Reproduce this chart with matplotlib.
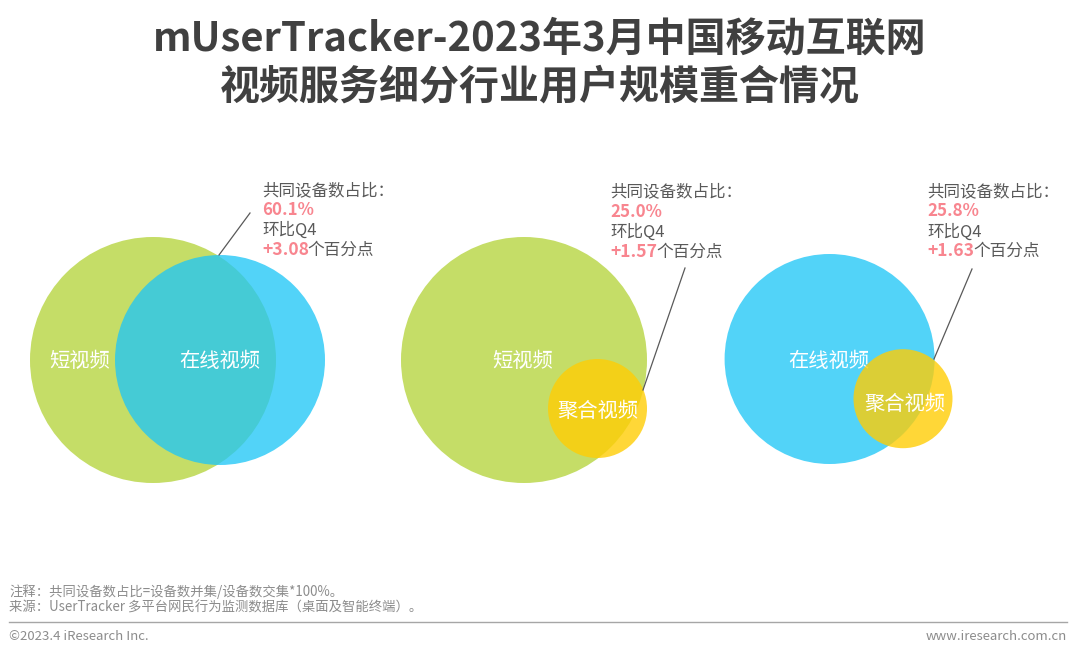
import matplotlib
matplotlib.use('Agg')
import matplotlib.pyplot as plt
from matplotlib.patches import Circle

plt.rcParams['font.family'] = ['Noto Sans CJK SC', 'DejaVu Sans']

title_lines = ['mUserTracker-2023年3月中国移动互联网', '视频服务细分行业用户规模重合情况']
back_names = ['短视频', '短视频', '在线视频']
front_names = ['在线视频', '聚合视频', '聚合视频']
shared_pct = [60.1, 25.0, 25.8]
qoq_change = [3.08, 1.57, 1.63]
# circle sizes, in px
back_radius = [123, 123, 105]
front_radius = [105, 49.5, 49.5]
note_lines = ['注释\uff1a共同设备数占比=设备数并集/设备数交集*100%。',
              '来源\uff1aUserTracker 多平台网民行为监测数据库\uff08桌面及智能终端\uff09。']

GREEN = '#C5DD67'
BLUE = '#1EC6F7'
YELLOW = '#FFCD05'
PINK = '#F8858F'
GREY = '#595959'
NOTE_GREY = '#8C8C8C'
circle_color = {'短视频': (GREEN, 1), '在线视频': (BLUE, 0.77), '聚合视频': (YELLOW, 0.8)}

# layout per panel, px from top left
back_xy = [(153, 360), (524, 360), (829.6, 359)]
front_xy = [(220, 360), (597.5, 408.5), (903, 398.7)]
back_label_xy = [(80, 361), (523, 361), (829, 361)]
front_label_xy = [(220, 361), (598, 411), (905, 404)]
note_x = [262, 610, 927]
note_y = [(191, 210, 230, 250), (192, 212, 232, 252), (192, 211, 232, 251)]
leaders = [((250, 213), (219, 255)), ((685, 268), (643, 390)), ((972, 269), (934, 359))]

fig = plt.figure(figsize=(10.8, 6.56), dpi=100)
ax = fig.add_axes([0, 0, 1, 1])
ax.set_xlim(0, 1080)
ax.set_ylim(656, 0)
ax.axis('off')

ax.text(540, 39, title_lines[0], fontsize=28.8, fontweight='bold', color='#404040', ha='center', va='center')
ax.text(540, 87, title_lines[1], fontsize=28.8, fontweight='bold', color='#404040', ha='center', va='center')

renderer = fig.canvas.get_renderer()

for i in range(3):
    col, alpha = circle_color[back_names[i]]
    ax.add_patch(Circle(back_xy[i], back_radius[i], fc=col, alpha=alpha, ec='none', zorder=2))
    ax.text(back_label_xy[i][0], back_label_xy[i][1], back_names[i], fontsize=14.6, color='white',
            ha='center', va='center', zorder=3)

    col, alpha = circle_color[front_names[i]]
    ax.add_patch(Circle(front_xy[i], front_radius[i], fc=col, alpha=alpha, ec='none', zorder=4))
    ax.text(front_label_xy[i][0], front_label_xy[i][1], front_names[i], fontsize=14.6, color='white',
            ha='center', va='center', zorder=5)

    start, end = leaders[i]
    ax.plot([start[0], end[0]], [start[1], end[1]], color=GREY, lw=0.9, zorder=6)

    x = note_x[i]
    ys = note_y[i]
    ax.text(x, ys[0], '共同设备数占比\uff1a', fontsize=11.9, color=GREY, va='center')
    ax.text(x, ys[1], f'{shared_pct[i]:.1f}%', fontsize=12.2, fontweight='bold', color=PINK, va='center')
    ax.text(x, ys[2], '环比Q4', fontsize=11.9, color=GREY, va='center')
    change = ax.text(x, ys[3], f'+{qoq_change[i]:.2f}', fontsize=12.6, fontweight='bold', color=PINK, va='center')
    box = change.get_window_extent(renderer)
    ax.text(box.x1 - 1, ys[3], '个百分点', fontsize=12, color=GREY, va='center')

ax.text(9, 592, note_lines[0], fontsize=9.6, color=NOTE_GREY, va='center')
ax.text(9, 608, note_lines[1], fontsize=9.6, color=NOTE_GREY, va='center')
ax.plot([9, 1067], [621.5, 621.5], color='#A6A6A6', lw=1.0)
ax.text(9, 636, '©2023.4 iResearch Inc.', fontsize=9.5, color=NOTE_GREY, va='center')
ax.text(1067, 636, 'www.iresearch.com.cn', fontsize=9.5, color=NOTE_GREY, ha='right', va='center')

fig.savefig('out.png', dpi=100)
